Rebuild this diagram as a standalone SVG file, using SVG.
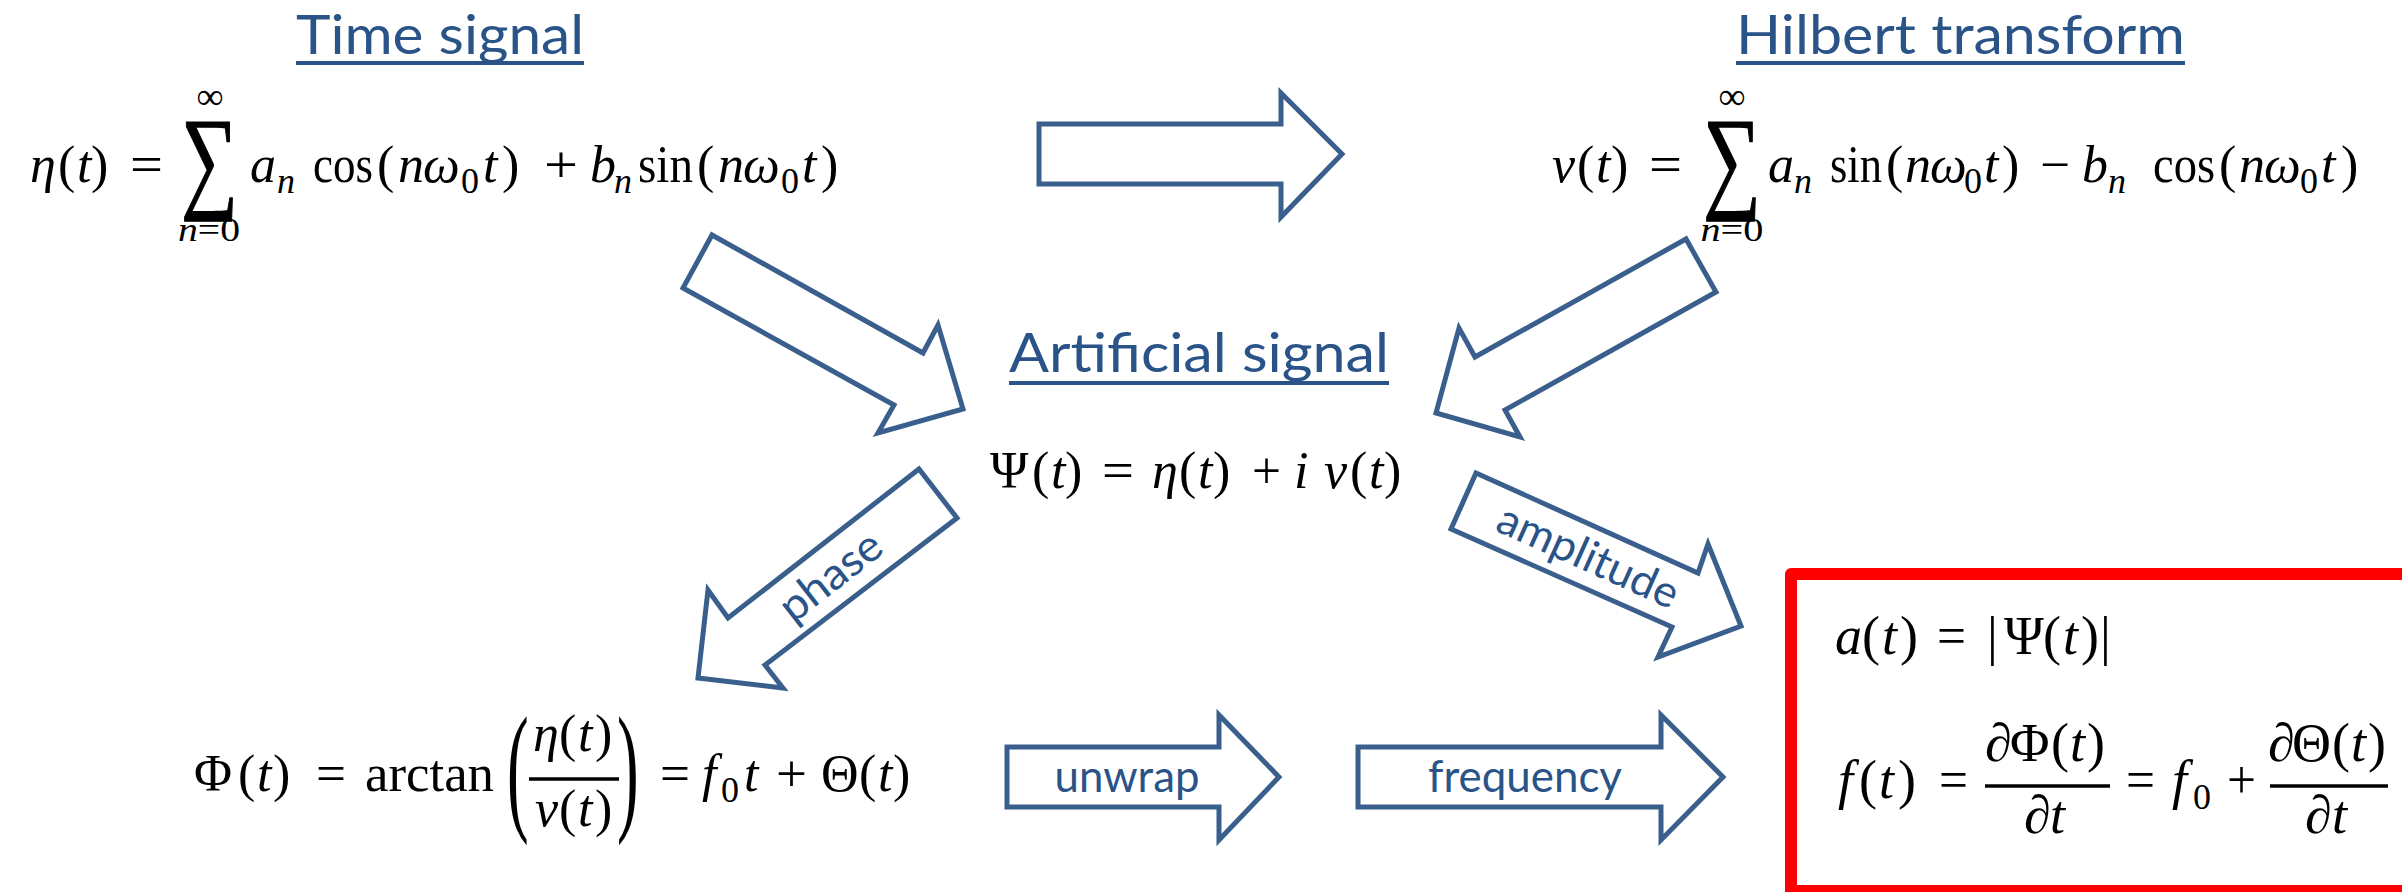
<svg xmlns="http://www.w3.org/2000/svg" width="2402" height="892" viewBox="0 0 2402 892">
<style>
.bg{fill:#fff}
.t{font-family:Lato,"Open Sans",sans-serif;fill:#2A5388}
.title{font-size:54px}
.lbl{font-size:44px}
.ul{stroke:#2A5388;stroke-width:4}
.m{font-family:"Liberation Serif",serif;font-size:52px;fill:#000}
.s{font-size:36px}
.i{font-style:italic}
.sig{font-size:88px;stroke:#000;stroke-width:1}
.arr{fill:#fff;stroke:#3A5F8C;stroke-width:5;stroke-linejoin:miter}
.bar{stroke:#000;stroke-width:3.5}
.box{fill:none;stroke:#FF0000;stroke-width:12;stroke-linejoin:round}
</style>
<rect class="bg" x="0" y="0" width="2402" height="892"/>

<g id="connectors">
  <polygon class="arr" points="1039,124 1281,124 1281,93 1342,154 1281,217 1281,184 1039,184"/>
  <polygon class="arr" points="712,235 923,353 938,325 963,409 878,433 894,405 683,288"/>
  <polygon class="arr" points="1686,239 1475,357 1459,328 1436,413 1520,437 1505,410 1716,292"/>
  <g id="arrow-phase">
    <polygon class="arr" points="919,469 728,618 708,590 698,678 783,688 765,665 957,518"/>
    <text class="t lbl" transform="translate(831,577) rotate(-38)" x="0" y="14" text-anchor="middle" textLength="118" lengthAdjust="spacingAndGlyphs">phase</text>
  </g>
  <g id="arrow-amplitude">
    <polygon class="arr" points="1476,473 1698,573 1708,544 1741,626 1658,657 1672,627 1451,529"/>
    <text class="t lbl" transform="translate(1588,557) rotate(24.2)" x="0" y="14" text-anchor="middle" textLength="194" lengthAdjust="spacingAndGlyphs">amplitude</text>
  </g>
  <g id="arrow-unwrap">
    <polygon class="arr" points="1007,747 1219,747 1219,715 1279,777 1219,840 1219,807 1007,807"/>
    <text class="t lbl" x="1127" y="792" text-anchor="middle" textLength="145" lengthAdjust="spacingAndGlyphs">unwrap</text>
  </g>
  <g id="arrow-frequency">
    <polygon class="arr" points="1358,747 1661,747 1661,715 1723,777 1661,840 1661,807 1358,807"/>
    <text class="t lbl" x="1525" y="792" text-anchor="middle" textLength="194" lengthAdjust="spacingAndGlyphs">frequency</text>
  </g>
</g>

<g id="time-signal">
  <text class="t title" x="296" y="54" textLength="288" lengthAdjust="spacingAndGlyphs">Time signal</text>
  <line class="ul" x1="296" y1="63" x2="584" y2="63"/>
  <g class="m">
    <text y="182"><tspan class="i" x="30">η</tspan><tspan x="58">(</tspan><tspan class="i" x="77">t</tspan><tspan x="91">)</tspan></text>
    <text x="130" y="182" textLength="33" lengthAdjust="spacingAndGlyphs">=</text>
    <text class="sig" transform="translate(181,197) scale(1,1.3)" x="0" y="0" textLength="57" lengthAdjust="spacingAndGlyphs">∑</text>
    <text x="210" y="109" style="font-size:38px" text-anchor="middle">∞</text>
    <text x="209" y="241" style="font-size:34px" text-anchor="middle" textLength="62" lengthAdjust="spacingAndGlyphs"><tspan class="i">n</tspan>=0</text>
    <text class="i" x="250" y="182">a</text>
    <text class="i s" x="277" y="193">n</text>
    <text x="313" y="182" textLength="60" lengthAdjust="spacingAndGlyphs">cos</text>
    <text y="182"><tspan x="377">(</tspan><tspan class="i" x="398">n</tspan><tspan class="i" x="423">ω</tspan><tspan class="i" x="483">t</tspan><tspan x="502">)</tspan></text>
    <text class="s" x="461" y="193">0</text>
    <text x="544" y="182" textLength="34" lengthAdjust="spacingAndGlyphs">+</text>
    <text class="i" x="590" y="182">b</text>
    <text class="i s" x="614" y="193">n</text>
    <text x="638" y="182" textLength="55" lengthAdjust="spacingAndGlyphs">sin</text>
    <text y="182"><tspan x="697">(</tspan><tspan class="i" x="718">n</tspan><tspan class="i" x="743">ω</tspan><tspan class="i" x="802">t</tspan><tspan x="821">)</tspan></text>
    <text class="s" x="781" y="193">0</text>
  </g>
</g>

<g id="hilbert-transform">
  <text class="t title" x="1736" y="54" textLength="449" lengthAdjust="spacingAndGlyphs">Hilbert transform</text>
  <line class="ul" x1="1736" y1="63" x2="2185" y2="63"/>
  <g class="m">
    <text y="182"><tspan class="i" x="1552">v</tspan><tspan x="1577">(</tspan><tspan class="i" x="1596">t</tspan><tspan x="1611">)</tspan></text>
    <text x="1649" y="182" textLength="33" lengthAdjust="spacingAndGlyphs">=</text>
    <text class="sig" transform="translate(1703,197) scale(1,1.3)" x="0" y="0" textLength="58" lengthAdjust="spacingAndGlyphs">∑</text>
    <text x="1732" y="109" style="font-size:38px" text-anchor="middle">∞</text>
    <text x="1732" y="241" style="font-size:34px" text-anchor="middle" textLength="63" lengthAdjust="spacingAndGlyphs"><tspan class="i">n</tspan>=0</text>
    <text class="i" x="1768" y="182">a</text>
    <text class="i s" x="1794" y="193">n</text>
    <text x="1830" y="182" textLength="52" lengthAdjust="spacingAndGlyphs">sin</text>
    <text y="182"><tspan x="1886">(</tspan><tspan class="i" x="1905">n</tspan><tspan class="i" x="1930">ω</tspan><tspan class="i" x="1984">t</tspan><tspan x="2002">)</tspan></text>
    <text class="s" x="1964" y="193">0</text>
    <text x="2040" y="182" textLength="30" lengthAdjust="spacingAndGlyphs">−</text>
    <text class="i" x="2082" y="182">b</text>
    <text class="i s" x="2108" y="193">n</text>
    <text x="2153" y="182" textLength="62" lengthAdjust="spacingAndGlyphs">cos</text>
    <text y="182"><tspan x="2219">(</tspan><tspan class="i" x="2239">n</tspan><tspan class="i" x="2264">ω</tspan><tspan class="i" x="2321">t</tspan><tspan x="2341">)</tspan></text>
    <text class="s" x="2300" y="193">0</text>
  </g>
</g>

<g id="artificial-signal">
  <text class="t title" x="1009" y="372" textLength="380" lengthAdjust="spacingAndGlyphs">Artificial signal</text>
  <line class="ul" x1="1009" y1="383" x2="1389" y2="383"/>
  <g class="m">
    <text y="488"><tspan x="990">Ψ</tspan><tspan x="1032">(</tspan><tspan class="i" x="1051">t</tspan><tspan x="1065">)</tspan></text>
    <text x="1102" y="488" textLength="32" lengthAdjust="spacingAndGlyphs">=</text>
    <text y="488"><tspan class="i" x="1152">η</tspan><tspan x="1179">(</tspan><tspan class="i" x="1198">t</tspan><tspan x="1213">)</tspan></text>
    <text x="1252" y="488" textLength="29" lengthAdjust="spacingAndGlyphs">+</text>
    <text class="i" x="1294" y="488">i</text>
    <text y="488"><tspan class="i" x="1324">v</tspan><tspan x="1350">(</tspan><tspan class="i" x="1369">t</tspan><tspan x="1384">)</tspan></text>
  </g>
</g>

<g id="phase-formula">
  <g class="m">
    <text y="791"><tspan x="194">Φ</tspan><tspan x="238">(</tspan><tspan class="i" x="257">t</tspan><tspan x="273">)</tspan></text>
    <text x="316" y="791" textLength="30" lengthAdjust="spacingAndGlyphs">=</text>
    <text x="365" y="791" textLength="129" lengthAdjust="spacingAndGlyphs">arctan</text>
    <text transform="translate(507,815) scale(1.25,2.75)" x="0" y="0">(</text>
    <text y="751"><tspan class="i" x="533">η</tspan><tspan x="559">(</tspan><tspan class="i" x="578">t</tspan><tspan x="595">)</tspan></text>
    <line class="bar" x1="529" y1="779" x2="619" y2="779"/>
    <text y="826"><tspan class="i" x="535">v</tspan><tspan x="559">(</tspan><tspan class="i" x="578">t</tspan><tspan x="595">)</tspan></text>
    <text transform="translate(617,815) scale(1.25,2.75)" x="0" y="0">)</text>
    <text x="660" y="791" textLength="30" lengthAdjust="spacingAndGlyphs">=</text>
    <text class="i" x="702" y="791">f</text>
    <text class="s" x="721" y="802">0</text>
    <text class="i" x="744" y="791">t</text>
    <text x="776" y="791" textLength="31" lengthAdjust="spacingAndGlyphs">+</text>
    <text y="791"><tspan x="821">Θ</tspan><tspan x="859">(</tspan><tspan class="i" x="878">t</tspan><tspan x="893">)</tspan></text>
  </g>
</g>

<g id="result-box">
  <rect class="box" x="1791" y="574" width="700" height="317"/>
  <g class="m" style="font-size:54px">
    <text y="654"><tspan class="i" x="1835">a</tspan><tspan x="1862">(</tspan><tspan class="i" x="1882">t</tspan><tspan x="1900">)</tspan></text>
    <text x="1937" y="654" textLength="29" lengthAdjust="spacingAndGlyphs">=</text>
    <text y="654"><tspan x="1987">|</tspan><tspan x="2004">Ψ</tspan><tspan x="2043">(</tspan><tspan class="i" x="2063">t</tspan><tspan x="2081">)</tspan><tspan x="2100">|</tspan></text>
    <text y="798"><tspan class="i" x="1838">f</tspan><tspan x="1859">(</tspan><tspan class="i" x="1879">t</tspan><tspan x="1898">)</tspan></text>
    <text x="1939" y="798" textLength="29" lengthAdjust="spacingAndGlyphs">=</text>
    <text y="761"><tspan class="i" x="1985">∂</tspan><tspan x="2010">Φ</tspan><tspan x="2051">(</tspan><tspan class="i" x="2070">t</tspan><tspan x="2087">)</tspan></text>
    <line class="bar" x1="1985" y1="786" x2="2110" y2="786"/>
    <text y="833"><tspan class="i" x="2024">∂</tspan><tspan class="i" x="2050">t</tspan></text>
    <text x="2126" y="798" textLength="29" lengthAdjust="spacingAndGlyphs">=</text>
    <text class="i" x="2172" y="798">f</text>
    <text class="s" x="2193" y="809">0</text>
    <text x="2227" y="798" textLength="29" lengthAdjust="spacingAndGlyphs">+</text>
    <text y="761"><tspan class="i" x="2268">∂</tspan><tspan x="2292">Θ</tspan><tspan x="2332">(</tspan><tspan class="i" x="2351">t</tspan><tspan x="2368">)</tspan></text>
    <line class="bar" x1="2270" y1="786" x2="2388" y2="786"/>
    <text y="833"><tspan class="i" x="2305">∂</tspan><tspan class="i" x="2332">t</tspan></text>
  </g>
</g>
</svg>
